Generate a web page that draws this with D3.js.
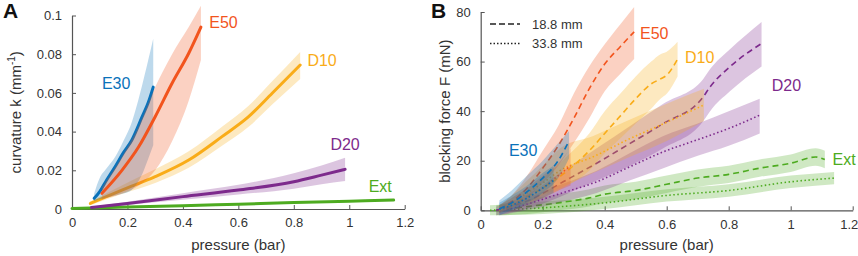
<!DOCTYPE html>
<html>
<head>
<meta charset="utf-8">
<script src="https://cdn.jsdelivr.net/npm/d3@7"></script>
<style>
  body { margin: 0; background: #fff; }
  svg { display: block; font-family: "Liberation Sans", Arial, sans-serif; }
  .tick text { fill: #333; font-size: 13px; }
  .axis path, .axis line { stroke: #555; }
  .ax-label { fill: #333; font-size: 15px; }
  .s-label { font-size: 16px; }
  .panel-tag { font-size: 21px; font-weight: bold; fill: #111; }
</style>
</head>
<body>
<svg id="chart" width="858" height="256"></svg>
<script>
// series names + colours
const names = ["E30", "E50", "D10", "D20", "Ext"];
const colors = ["#0a72ba", "#f2541d", "#f9ac18", "#7d2a8c", "#4dab20"];

// ---- panel A : curvature vs pressure ----
const aE30_p  = [0.08, 0.1, 0.125, 0.156, 0.185, 0.216, 0.253, 0.275, 0.293];
const aE30_k  = [0.0055, 0.009, 0.015, 0.022, 0.029, 0.0357, 0.0477, 0.055, 0.063];
const aE30_lo = [0.004, 0.005, 0.006, 0.007, 0.008, 0.010, 0.018, 0.026, 0.033];
const aE30_hi = [0.008, 0.016, 0.021, 0.027, 0.035, 0.045, 0.064, 0.077, 0.088];

const aE50_p  = [0.108, 0.18, 0.24, 0.3, 0.361, 0.421, 0.465];
const aE50_k  = [0.0081, 0.020, 0.032, 0.0477, 0.065, 0.0805, 0.094];
const aE50_lo = [0.005, 0.008, 0.012, 0.020, 0.035, 0.056, 0.077];
const aE50_hi = [0.011, 0.027, 0.0425, 0.063, 0.080, 0.094, 0.105];

const aD10_p  = [0.066, 0.18, 0.3, 0.421, 0.541, 0.637, 0.722, 0.823];
const aD10_k  = [0.0029, 0.0098, 0.0167, 0.0253, 0.0374, 0.0477, 0.0598, 0.0744];
const aD10_lo = [0.0019, 0.0078, 0.0135, 0.0213, 0.0327, 0.0425, 0.0540, 0.0672];
const aD10_hi = [0.0039, 0.0122, 0.0205, 0.0298, 0.0425, 0.0533, 0.0660, 0.0812];

const aD20_p  = [0.07, 0.2, 0.4, 0.6, 0.8, 0.9, 0.985];
const aD20_k  = [0.0008, 0.0029, 0.0064, 0.0098, 0.0141, 0.0175, 0.0205];
const aD20_lo = [0.0004, 0.0021, 0.0048, 0.0075, 0.0105, 0.0128, 0.0145];
const aD20_hi = [0.0012, 0.0038, 0.0082, 0.0125, 0.0185, 0.0225, 0.0265];

const aExt_p  = [0, 0.2, 0.4, 0.6, 0.8, 1.0, 1.16];
const aExt_k  = [0.0003, 0.001, 0.0017, 0.0025, 0.0033, 0.004, 0.0046];
const aExt_lo = [0.0, 0.0006, 0.0013, 0.0021, 0.0029, 0.0036, 0.0042];
const aExt_hi = [0.0007, 0.0014, 0.0021, 0.0029, 0.0037, 0.0044, 0.005];

// ---- panel B : blocking force, 18.8 mm (dashed) / 33.8 mm (dotted) ----
const bE30d_p  = [0.06, 0.1, 0.15, 0.2, 0.25, 0.285];
const bE30d_f  = [0.5, 3, 7.5, 13, 20, 28];
const bE30d_lo = [-2, 0, 3, 7, 13, 21];
const bE30d_hi = [4, 8, 14, 20, 27, 32];

const bE30s_p  = [0.06, 0.1, 0.15, 0.2, 0.235];
const bE30s_f  = [0.5, 2, 5, 9, 12];
const bE30s_lo = [-1, 0, 2, 5, 7];
const bE30s_hi = [3, 6, 10, 15, 18];

const bE50d_p  = [0.06, 0.1, 0.15, 0.2, 0.25, 0.3, 0.35, 0.4, 0.45, 0.495];
const bE50d_f  = [0.5, 3.5, 9, 17, 26, 37, 49, 59, 66, 72];
const bE50d_lo = [-1, 1, 5, 11, 18, 27, 37, 48, 55, 61];
const bE50d_hi = [2, 6, 14, 24, 34, 47, 58, 67, 75, 82];

const bE50s_p  = [0.06, 0.1, 0.15, 0.2, 0.25, 0.29];
const bE50s_f  = [0, 2, 5, 9, 14, 18];
const bE50s_lo = [-1, 0, 2, 5, 8, 10];
const bE50s_hi = [2, 5, 9, 14, 19, 25];

const bD10d_p  = [0.06, 0.1, 0.2, 0.28, 0.35, 0.4, 0.45, 0.5, 0.55, 0.58, 0.6, 0.635];
const bD10d_f  = [0, 2.5, 9, 16, 24, 31, 38, 45, 51, 53, 54.5, 61];
const bD10d_lo = [-1, 1, 5, 10, 16, 23, 29, 35, 41, 45, 47, 54];
const bD10d_hi = [2, 5, 13, 22, 31, 40, 47, 54, 60, 63, 64, 68];

const bD10s_p  = [0.06, 0.1, 0.15, 0.2, 0.256, 0.363, 0.471, 0.6, 0.72];
const bD10s_f  = [0, 3, 7, 11, 16, 21.6, 28.3, 35.5, 42.5];
const bD10s_lo = [-1, 1, 3, 6, 9, 15, 21, 28, 36];
const bD10s_hi = [2, 6, 12, 18, 25, 30, 36, 43, 49];

const bD20d_p  = [0.05, 0.159, 0.266, 0.374, 0.482, 0.589, 0.718, 0.74, 0.804, 0.906];
const bD20d_f  = [0, 4.2, 11.5, 19, 27, 35, 45.8, 49.8, 57.9, 67.3];
const bD20d_lo = [-2, 1, 6, 12, 18, 25, 36, 40, 48, 58];
const bD20d_hi = [1.5, 7, 16, 25, 34, 43, 53, 57, 65, 76];

const bD20s_p  = [0.06, 0.15, 0.25, 0.374, 0.48, 0.589, 0.7, 0.8, 0.9];
const bD20s_f  = [-0.5, 2.5, 6.5, 11.5, 17.5, 23.6, 28.5, 33, 38.4];
const bD20s_lo = [-2, 0, 3, 7, 12, 17, 22, 26, 31];
const bD20s_hi = [1, 5, 10, 16, 23, 30, 35, 40, 45];

const bExtd_p  = [0.05, 0.15, 0.25, 0.35, 0.4, 0.5, 0.6, 0.7, 0.8, 0.9, 1.0, 1.08, 1.11];
const bExtd_f  = [0, 1.5, 3, 5, 6.5, 8, 10.5, 13, 14.5, 17, 19, 21.5, 20.5];
const bExtd_lo = [-2, -1.5, 0, 1.5, 3, 4.5, 7, 9.5, 11, 13.5, 15.5, 18, 17];
const bExtd_hi = [2, 4.5, 6.5, 8.5, 10, 11.5, 14, 16.5, 18, 20.5, 22.5, 25, 24];

const bExts_p  = [0.03, 0.2, 0.4, 0.6, 0.8, 1.0, 1.14];
const bExts_f  = [0, 1, 3, 6, 8, 11.5, 13];
const bExts_lo = [-2, -1.5, 0.5, 3.5, 5.5, 9, 10.5];
const bExts_hi = [2, 3.5, 5.5, 8.5, 10.5, 14, 15.5];

const xTicks = [0, 0.2, 0.4, 0.6, 0.8, 1, 1.2];
const kTicks = [0, 0.02, 0.04, 0.06, 0.08, 0.1];
const fTicks = [0, 20, 40, 60, 80];

function zip(p, v, lo, hi) {
    return p.map((d, i) => ({ p: d, v: v[i], lo: lo[i], hi: hi[i] }));
}

const svg = d3.select("#chart");

function drawAxes(g, x, y, yTicks, yFmt) {
    let xAxis = g.append("g")
        .attr("class", "axis")
        .attr("transform", `translate(0,${y.range()[0]})`)
        .call(d3.axisBottom(x).tickValues(xTicks).tickFormat(d3.format("~g"))
            .tickSizeInner(-4).tickSizeOuter(0).tickPadding(9));
    g.append("g")
        .attr("class", "axis")
        .attr("transform", `translate(${x.range()[0]},0)`)
        .call(d3.axisLeft(y).tickValues(yTicks).tickFormat(yFmt)
            .tickSizeInner(-4).tickSizeOuter(0).tickPadding(10));
    g.selectAll(".axis .domain").attr("stroke-width", 1.2);
    return xAxis;
}

function drawSeries(g, x, y, rows, color, style) {
    const area = d3.area()
        .x(d => x(d.p)).y0(d => y(d.lo)).y1(d => y(d.hi))
        .curve(d3.curveMonotoneX);
    const line = d3.line()
        .x(d => x(d.p)).y(d => y(d.v))
        .curve(d3.curveMonotoneX);

    g.append("path")
        .datum(rows)
        .attr("d", area)
        .attr("fill", color)
        .attr("fill-opacity", 0.27);

    let l = g.append("path")
        .datum(rows)
        .attr("d", line)
        .attr("fill", "none")
        .attr("stroke", color);
    if (style == "solid") {
        l.attr("stroke-width", 3).attr("stroke-linecap", "round");
    } else if (style == "dash") {
        l.attr("stroke-width", 1.6).attr("stroke-dasharray", "6,4");
    } else {
        l.attr("stroke-width", 1.6).attr("stroke-dasharray", "1.5,2.5");
    }
}

// ---------------- panel A ----------------
const xA = d3.scaleLinear().domain([0, 1.2]).range([72, 404.7]);
const yA = d3.scaleLinear().domain([0, 0.1]).range([209, 15.5]);
const gA = svg.append("g");

drawAxes(gA, xA, yA, kTicks, d3.format("~g"));

const seriesA = [
    zip(aE30_p, aE30_k, aE30_lo, aE30_hi),
    zip(aE50_p, aE50_k, aE50_lo, aE50_hi),
    zip(aD10_p, aD10_k, aD10_lo, aD10_hi),
    zip(aD20_p, aD20_k, aD20_lo, aD20_hi),
    zip(aExt_p, aExt_k, aExt_lo, aExt_hi)
];
// green first so it sits at the bottom of the stack like the original
[4, 3, 2, 0, 1].forEach(i => drawSeries(gA, xA, yA, seriesA[i], colors[i], "solid"));

// label anchors (data units)
const labA = [[0.108, 0.062], [0.495, 0.0935], [0.849, 0.0739], [0.932, 0.0305], [1.07, 0.0088]];
gA.selectAll(".s-label")
    .data(names)
  .join("text")
    .attr("class", "s-label")
    .attr("x", (d, i) => xA(labA[i][0]))
    .attr("y", (d, i) => yA(labA[i][1]))
    .attr("fill", (d, i) => colors[i])
    .text(d => d);

gA.append("text")
    .attr("class", "ax-label")
    .attr("x", xA(0.6)).attr("y", 250)
    .attr("text-anchor", "middle")
    .text("pressure (bar)");

let ylabA = gA.append("text")
    .attr("class", "ax-label")
    .attr("transform", `translate(21,${yA(0.05)}) rotate(-90)`)
    .attr("text-anchor", "middle");
ylabA.append("tspan").text("curvature k (mm");
ylabA.append("tspan").attr("font-size", 10).attr("dy", -6).text("-1");
ylabA.append("tspan").attr("dy", 6).text(")");

gA.append("text").attr("class", "panel-tag").attr("x", 3).attr("y", 18).text("A");

// ---------------- panel B ----------------
const xB = d3.scaleLinear().domain([0, 1.2]).range([480.7, 852.7]);
const yB = d3.scaleLinear().domain([0, 80]).range([210.3, 12]);
const gB = svg.append("g");

let xAxisB = drawAxes(gB, xB, yB, fTicks, d3.format("d"));
// last tick label sits right at the page edge
xAxisB.selectAll(".tick text").filter(d => d == 1.2).attr("dx", -4);

const seriesB = [
    [zip(bExts_p, bExts_f, bExts_lo, bExts_hi), 4, "dot"],
    [zip(bExtd_p, bExtd_f, bExtd_lo, bExtd_hi), 4, "dash"],
    [zip(bD20s_p, bD20s_f, bD20s_lo, bD20s_hi), 3, "dot"],
    [zip(bD20d_p, bD20d_f, bD20d_lo, bD20d_hi), 3, "dash"],
    [zip(bD10s_p, bD10s_f, bD10s_lo, bD10s_hi), 2, "dot"],
    [zip(bD10d_p, bD10d_f, bD10d_lo, bD10d_hi), 2, "dash"],
    [zip(bE50s_p, bE50s_f, bE50s_lo, bE50s_hi), 1, "dot"],
    [zip(bE50d_p, bE50d_f, bE50d_lo, bE50d_hi), 1, "dash"],
    [zip(bE30s_p, bE30s_f, bE30s_lo, bE30s_hi), 0, "dot"],
    [zip(bE30d_p, bE30d_f, bE30d_lo, bE30d_hi), 0, "dash"]
];
seriesB.forEach(s => drawSeries(gB, xB, yB, s[0], colors[s[1]], s[2]));

const labB = [[0.091, 21.9], [0.514, 69], [0.659, 59.5], [0.939, 48.2], [1.135, 18.3]];
gB.selectAll(".s-label")
    .data(names)
  .join("text")
    .attr("class", "s-label")
    .attr("x", (d, i) => xB(labB[i][0]))
    .attr("y", (d, i) => yB(labB[i][1]))
    .attr("fill", (d, i) => colors[i])
    .text(d => d);

// legend
const legend = [["18.8 mm", "6,3"], ["33.8 mm", "1.5,2"]];
let lg = gB.selectAll(".lg")
    .data(legend)
  .join("g")
    .attr("class", "lg")
    .attr("transform", (d, i) => `translate(490,${24 + i * 19.5})`);
lg.append("line")
    .attr("x1", 0).attr("x2", 30)
    .attr("stroke", "#222").attr("stroke-width", 1.6)
    .attr("stroke-dasharray", d => d[1]);
lg.append("text")
    .attr("x", 42).attr("dy", "0.35em")
    .attr("fill", "#333").attr("font-size", 13)
    .text(d => d[0]);

gB.append("text")
    .attr("class", "ax-label")
    .attr("x", xB(0.6)).attr("y", 250)
    .attr("text-anchor", "middle")
    .text("pressure (bar)");

gB.append("text")
    .attr("class", "ax-label")
    .attr("transform", `translate(450,${yB(40)}) rotate(-90)`)
    .attr("text-anchor", "middle")
    .text("blocking force F (mN)");

gB.append("text").attr("class", "panel-tag").attr("x", 431).attr("y", 18).text("B");
</script>
</body>
</html>
